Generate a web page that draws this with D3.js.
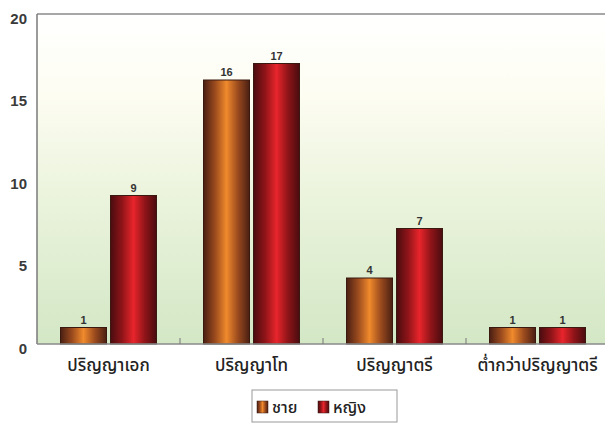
<!DOCTYPE html>
<html>
<head>
<meta charset="utf-8">
<script src="https://cdn.jsdelivr.net/npm/d3@7"></script>
<style>
  html, body { margin: 0; padding: 0; background: #ffffff; }
  svg { display: block; }
</style>
</head>
<body>
<svg id="chart" width="605" height="423"></svg>
<script>
// Education level counts by gender
const categories = ["ปริญญาเอก", "ปริญญาโท", "ปริญญาตรี", "ต่ำกว่าปริญญาตรี"];
const seriesNames = ["ชาย", "หญิง"];
const maleValues = [1, 16, 4, 1];
const femaleValues = [9, 17, 7, 1];
const yTicks = [0, 5, 10, 15, 20];

const svg = d3.select("#chart");
const margin = { left: 37, top: 14, right: -4, bottom: 79 };
const W = 605, H = 423;
const x0 = margin.left, x1 = W - margin.right;
const yTop = margin.top, yBot = H - margin.bottom;

const x = d3.scaleBand().domain(categories).range([x0, x1]).paddingInner(0).paddingOuter(0);
const y = d3.scaleLinear().domain([0, 20]).range([yBot, yTop]);

const defs = svg.append("defs");

// plot background: cream at the top fading to pale green below
const bg = defs.append("linearGradient").attr("id", "bgGrad")
  .attr("x1", 0).attr("y1", 0).attr("x2", 0).attr("y2", 1);
bg.append("stop").attr("offset", "0%").attr("stop-color", "#ffffff");
bg.append("stop").attr("offset", "25%").attr("stop-color", "#fdfdf2");
bg.append("stop").attr("offset", "50%").attr("stop-color", "#eef5e0");
bg.append("stop").attr("offset", "100%").attr("stop-color", "#d3e7c5");

// cylinder-like shading for each series
function cylinder(id, edge, mid, center) {
  const g = defs.append("linearGradient").attr("id", id)
    .attr("x1", 0).attr("y1", 0).attr("x2", 1).attr("y2", 0);
  g.append("stop").attr("offset", "0%").attr("stop-color", edge);
  g.append("stop").attr("offset", "25%").attr("stop-color", mid);
  g.append("stop").attr("offset", "50%").attr("stop-color", center);
  g.append("stop").attr("offset", "75%").attr("stop-color", mid);
  g.append("stop").attr("offset", "100%").attr("stop-color", edge);
}
cylinder("maleGrad", "#4a1f12", "#9a4a1e", "#f08a2c");
cylinder("femaleGrad", "#4a0c10", "#8e1418", "#e8252c");

svg.append("rect")
  .attr("x", x0).attr("y", yTop)
  .attr("width", x1 - x0).attr("height", yBot - yTop)
  .attr("fill", "url(#bgGrad)");

// frame lines
svg.append("line").attr("x1", x0).attr("x2", x1).attr("y1", yTop).attr("y2", yTop)
  .attr("stroke", "#8a8a8a").attr("stroke-width", 1.5);
svg.append("line").attr("x1", x0).attr("x2", x0).attr("y1", yTop).attr("y2", yBot)
  .attr("stroke", "#7a7a7a").attr("stroke-width", 1.5);

// y axis labels
const yAxis = d3.axisLeft(y).tickValues(yTicks).tickSize(0).tickPadding(10).tickFormat(d3.format("d"));
const gy = svg.append("g").attr("transform", `translate(${x0},0)`).call(yAxis);
gy.select(".domain").remove();
gy.selectAll("text")
  .attr("dy", "0.6em")
  .attr("font-family", "Liberation Sans, Arial, sans-serif")
  .attr("font-size", 15).attr("font-weight", "bold").attr("fill", "#3a3a3a");

// bars
const barW = 46, gap = 4;
const data = categories.map((c, i) => ({ c, m: maleValues[i], f: femaleValues[i] }));
const groups = svg.append("g").selectAll("g").data(data).join("g");

function drawBars(key, fill, offset) {
  groups.append("rect")
    .attr("x", d => x(d.c) + x.bandwidth() / 2 + offset)
    .attr("y", d => y(d[key]))
    .attr("width", barW)
    .attr("height", d => yBot - y(d[key]))
    .attr("fill", fill)
    .attr("stroke", "#3a1a10").attr("stroke-width", 1);
  groups.append("text")
    .attr("x", d => x(d.c) + x.bandwidth() / 2 + offset + barW / 2)
    .attr("y", d => y(d[key]) - 4)
    .attr("text-anchor", "middle")
    .attr("font-family", "Liberation Sans, Arial, sans-serif")
    .attr("font-size", 11).attr("font-weight", "bold").attr("fill", "#333")
    .text(d => d[key]);
}
drawBars("m", "url(#maleGrad)", -barW - gap / 2);
drawBars("f", "url(#femaleGrad)", gap / 2);

// x axis with inward category ticks
svg.append("line").attr("x1", x0).attr("x2", x1).attr("y1", yBot).attr("y2", yBot)
  .attr("stroke", "#8a8a8a").attr("stroke-width", 1.5);
const xAxis = d3.axisBottom(x).tickSize(0).tickPadding(15);
const gx = svg.append("g").attr("transform", `translate(0,${yBot})`).call(xAxis);
gx.select(".domain").remove();
gx.selectAll("text")
  .attr("font-family", "Noto Sans Thai, Noto Sans, DejaVu Sans, sans-serif")
  .attr("font-size", 17).attr("font-weight", 500).attr("fill", "#222");
svg.append("g").selectAll("line").data(categories.slice(1)).join("line")
  .attr("x1", d => x(d)).attr("x2", d => x(d))
  .attr("y1", yBot).attr("y2", yBot - 6)
  .attr("stroke", "#777").attr("stroke-width", 1);

// legend
const lg = svg.append("g");
lg.append("rect").attr("x", 252).attr("y", 390).attr("width", 145).attr("height", 32)
  .attr("fill", "#ffffff").attr("stroke", "#999").attr("stroke-width", 1);
const legendItems = [
  { name: seriesNames[0], fill: "url(#maleGrad)", x: 257 },
  { name: seriesNames[1], fill: "url(#femaleGrad)", x: 318 }
];
legendItems.forEach(it => {
  lg.append("rect").attr("x", it.x).attr("y", 401).attr("width", 11).attr("height", 12)
    .attr("fill", it.fill).attr("stroke", "#3a1a10").attr("stroke-width", 0.5);
  lg.append("text").attr("x", it.x + 15).attr("y", 413)
    .attr("font-family", "Noto Sans Thai, Noto Sans, DejaVu Sans, sans-serif")
    .attr("font-size", 16).attr("font-weight", 500).attr("fill", "#222")
    .text(it.name);
});
</script>
</body>
</html>
